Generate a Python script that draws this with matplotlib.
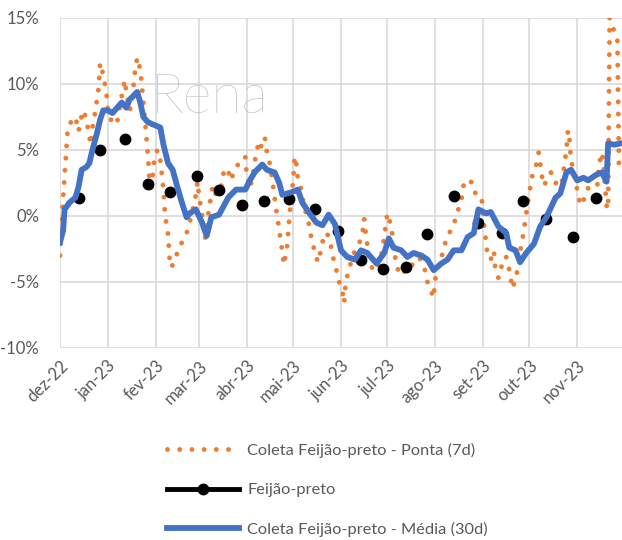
import pandas as pd
import matplotlib
matplotlib.use('Agg')
import matplotlib.pyplot as plt
from matplotlib.ticker import FuncFormatter

plt.rcParams['font.family'] = ['Lato', 'DejaVu Sans']

INICIO = pd.Timestamp('2022-12-01')
FIM = pd.Timestamp('2023-11-30')

# ---- dados (dias contados a partir de 01/12/2022, valores em %) ----
dias_ponta = [0, 1, 2, 3, 4, 5, 8, 10, 12, 13,
              15, 17, 19, 20, 21, 23, 25, 26, 28, 30,
              31, 33, 36, 37, 39, 41, 42, 43, 45, 47,
              48, 50, 52, 53, 55, 57, 58, 59, 61, 63,
              65, 67, 68, 70, 71, 72, 74, 77, 79, 82,
              84, 86, 88, 89, 90, 92, 93, 94, 96, 98,
              99, 101, 104, 106, 109, 110, 113, 116, 120, 121,
              123, 125, 127, 129, 130, 132, 133, 134, 136, 138,
              140, 142, 144, 145, 147, 148, 149, 151, 152, 153,
              154, 156, 158, 161, 163, 165, 167, 169, 171, 173,
              175, 177, 179, 181, 183, 184, 185, 187, 189, 191,
              194, 196, 197, 198, 200, 202, 204, 206, 208, 210,
              212, 213, 215, 216, 218, 220, 223, 226, 229, 231,
              233, 236, 238, 240, 242, 243, 245, 247, 249, 252,
              255, 256, 258, 260, 261, 263, 266, 268, 270, 273,
              274, 275, 276, 277, 279, 281, 282, 284, 286, 288,
              289, 291, 293, 295, 297, 298, 300, 302, 304, 306,
              308, 310, 311, 313, 315, 318, 320, 322, 324, 326,
              328, 329, 330, 331, 333, 335, 337, 340, 342, 345,
              348, 349, 351, 352, 353, 354, 355, 356, 357, 358,
              359, 360, 361, 362, 363]
ponta_7d = [-3.0, -0.8, 1.4, 3.1, 4.8, 6.7, 7.3, 7.5, 6.4, 7.1,
            8.0, 7.4, 6.0, 5.4, 6.7, 8.0, 9.7, 11.6, 10.7, 9.4,
            8.0, 7.3, 6.9, 7.1, 8.4, 9.8, 10.3, 9.3, 8.0, 8.6,
            10.5, 12.0, 11.1, 9.9, 7.3, 4.5, 2.7, 1.7, 4.2, 5.0,
            4.2, 2.0, 0.1, -1.4, -3.3, -3.9, -3.5, -2.4, -2.0, -1.3,
            -0.5, 0.5, 1.6, 2.6, 1.6, 0.1, -1.2, -1.7, 0.1, 1.7,
            2.3, 1.6, 2.0, 3.3, 3.6, 2.7, 3.3, 4.1, 4.5, 3.0,
            2.1, 3.1, 4.8, 5.6, 5.2, 6.0, 5.8, 4.8, 3.9, 2.3,
            0.5, -1.1, -2.7, -3.7, -2.4, -0.9, 0.5, 2.7, 4.5, 4.0,
            2.9, 2.1, 0.8, -0.5, -1.8, -2.7, -3.5, -2.6, -1.4, -1.3,
            -2.0, -3.2, -4.1, -5.1, -5.8, -6.6, -5.1, -4.1, -3.3, -2.6,
            -2.0, -1.2, -0.2, -1.3, -3.0, -3.9, -4.2, -3.7, -3.1, -1.6,
            0.2, -0.1, -1.2, -2.4, -3.7, -4.5, -4.2, -4.2, -3.5, -2.6,
            -3.2, -3.9, -5.0, -5.6, -6.2, -4.8, -3.9, -3.2, -2.2, -1.3,
            -0.8, -0.2, 0.5, 1.2, 2.2, 2.7, 2.7, 1.8, 1.7, 1.5,
            0.1, -1.1, -2.0, -3.1, -3.3, -2.6, -4.1, -4.7, -3.8, -3.7,
            -3.1, -4.1, -5.5, -4.8, -3.7, -2.7, -1.4, 0.2, 1.8, 3.1,
            3.6, 4.8, 4.0, 2.3, 2.6, 3.3, 3.1, 2.1, 1.7, 3.3,
            5.0, 6.5, 5.8, 4.2, 3.3, 2.0, 0.8, 1.4, 2.1, 2.0,
            2.3, 3.9, 4.8, 3.9, 2.3, 0.8, 0.5, 15.0, 14.8, 14.4,
            13.9, 13.6, 13.4, 4.0, 3.5]

dias_media = [0, 2, 3, 6, 10, 12, 14, 17, 19, 21,
              24, 26, 28, 31, 34, 37, 40, 43, 45, 50,
              52, 54, 57, 61, 65, 67, 70, 73, 76, 79,
              82, 84, 88, 92, 95, 98, 103, 109, 114, 120,
              123, 126, 131, 134, 139, 142, 144, 150, 154, 157,
              161, 166, 170, 174, 178, 182, 186, 191, 195, 199,
              205, 210, 213, 216, 221, 225, 229, 234, 238, 242,
              247, 251, 255, 260, 264, 268, 271, 276, 279, 284,
              289, 291, 295, 298, 302, 307, 311, 315, 321, 324,
              328, 331, 335, 339, 342, 347, 351, 354, 355, 359,
              363]
media_30d = [-2.0, -1.1, 0.5, 1.0, 1.4, 2.2, 3.5, 3.7, 4.0, 5.0,
             6.3, 7.3, 8.0, 8.0, 7.8, 8.2, 8.6, 8.2, 8.8, 9.4,
             8.6, 7.5, 7.1, 6.9, 6.7, 5.4, 4.0, 3.5, 2.2, 1.0,
             -0.1, 0.2, 0.5, -0.5, -1.5, -0.1, 0.1, 1.4, 2.0, 2.0,
             2.7, 3.3, 3.9, 3.5, 3.3, 2.5, 1.6, 1.8, 2.0, 1.0,
             0.3, -0.5, -0.7, 0.1, -0.6, -2.6, -3.1, -3.3, -2.6, -2.8,
             -3.6, -2.8, -1.7, -2.4, -2.6, -3.1, -2.8, -3.0, -3.3, -4.1,
             -3.6, -3.3, -2.6, -2.6, -1.6, -1.3, 0.5, 0.2, 0.3, -0.8,
             -1.3, -2.4, -2.6, -3.5, -2.8, -2.1, -0.8, -0.1, 1.4, 1.7,
             3.3, 3.5, 2.7, 2.9, 2.7, 3.1, 3.3, 2.6, 5.5, 5.4,
             5.5]

dias_feijao = [12, 26, 42, 57, 71, 89, 103, 118, 132, 148,
               165, 180, 195, 209, 224, 238, 255, 271, 286, 300,
               315, 332, 347]
feijao_preto = [1.4, 5.0, 5.8, 2.4, 1.8, 3.0, 2.0, 0.8, 1.1, 1.3,
                0.5, -1.1, -3.3, -4.0, -3.9, -1.4, 1.5, -0.5, -1.3, 1.1,
                -0.2, -1.6, 1.4]

meses = ['dez-22', 'jan-23', 'fev-23', 'mar-23', 'abr-23', 'mai-23',
         'jun-23', 'jul-23', 'ago-23', 'set-23', 'out-23', 'nov-23']


def datas(dias):
    return INICIO + pd.to_timedelta(dias, unit='D')


# serie diaria com lacunas: so os marcadores aparecem (como no Excel)
dias_todos = pd.date_range(INICIO, FIM, freq='D')
serie_feijao = pd.Series(feijao_preto, index=datas(dias_feijao)).reindex(dias_todos)

fig = plt.figure(figsize=(6.22, 5.40), dpi=100)
ax = fig.add_axes([60 / 622, 192 / 540, 562 / 622, 330 / 540])

ax.plot(datas(dias_ponta), ponta_7d, color='#ED7D31', lw=3.5,
        linestyle=(0, (0.01, 2.5)), dash_capstyle='round',
        label='Coleta Feijão-preto - Ponta (7d)', zorder=3)
ax.plot(serie_feijao.index, serie_feijao.values, color='black', lw=3.5,
        marker='o', ms=7.5, label='Feijão-preto', zorder=4)
ax.plot(datas(dias_media), media_30d, color='#4472C4', lw=4.2,
        solid_joinstyle='round', label='Coleta Feijão-preto - Média (30d)', zorder=5)

# marca d'agua
ax.text(151 / 622, 1 - 113 / 540, 'Rena', transform=fig.transFigure,
        fontsize=40, fontweight='light', color='#b5b5b5', zorder=1)

ax.set_xlim(INICIO, FIM)
ax.set_ylim(-10, 15)
ax.set_yticks(range(-10, 16, 5))
ax.yaxis.set_major_formatter(FuncFormatter(lambda v, p: f'{v:.0f}%'))
ax.set_xticks(pd.date_range(INICIO, periods=12, freq='MS'))
ax.set_xticklabels(meses, rotation=45, ha='right', rotation_mode='anchor')

ax.set_axisbelow(True)
ax.grid(True, color='#d9d9d9', lw=1.2)
for s in ax.spines.values():
    s.set_visible(False)
ax.tick_params(axis='both', length=0, colors='#595959', labelsize=12)
ax.tick_params(axis='y', pad=15)
ax.tick_params(axis='x', pad=7)

fig.legend(loc='center left', bbox_to_anchor=(167 / 622, 1 - 490 / 540),
           frameon=False, handlelength=4.4, handletextpad=0.5, labelspacing=1.5,
           borderpad=0, borderaxespad=0, fontsize=11.8, labelcolor='#595959')

plt.savefig('out.png', dpi=100)
